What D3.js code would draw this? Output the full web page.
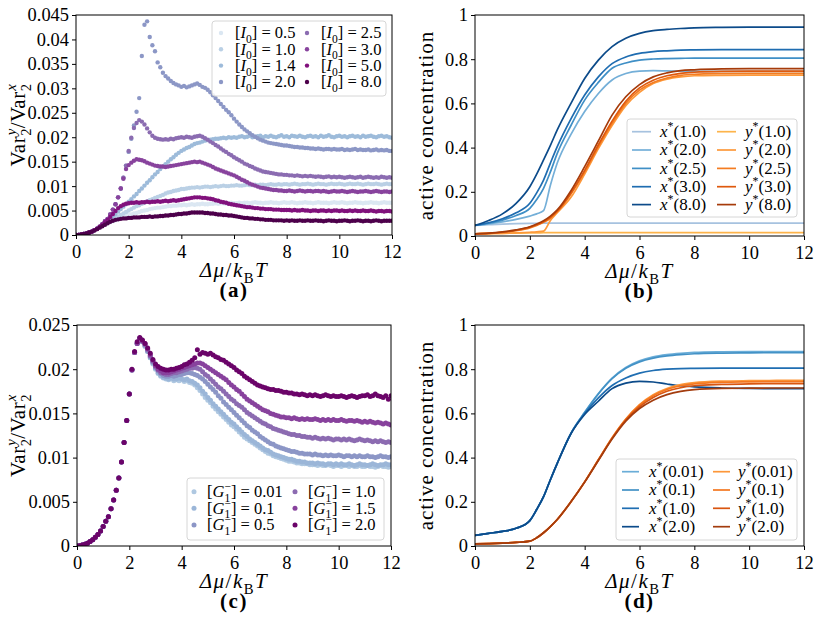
<!DOCTYPE html>
<html>
<head>
<meta charset="utf-8">
<script src="https://cdn.jsdelivr.net/npm/d3@7"></script>
<style>
  body { margin: 0; background: #fff; }
  svg text { font-family: "Liberation Serif", "Times New Roman", serif; fill: #000; }
</style>
</head>
<body>
<svg id="fig" width="823" height="625"></svg>
<script>
// ---------- data ----------
// chemical potential grid of the simulations (panels a, c)
var muGrid = [
  0, 0.1, 0.2, 0.3, 0.4, 0.5, 0.6, 0.7, 0.8, 0.9,
  1, 1.1, 1.2, 1.3, 1.4, 1.5, 1.6, 1.7, 1.8, 1.9,
  2, 2.1, 2.2, 2.3, 2.4, 2.5, 2.6, 2.7, 2.8, 2.9,
  3, 3.1, 3.2, 3.3, 3.4, 3.5, 3.6, 3.7, 3.8, 3.9,
  4, 4.1, 4.2, 4.3, 4.4, 4.5, 4.6, 4.7, 4.8, 4.9,
  5, 5.1, 5.2, 5.3, 5.4, 5.5, 5.6, 5.7, 5.8, 5.9,
  6, 6.1, 6.2, 6.3, 6.4, 6.5, 6.6, 6.7, 6.8, 6.9,
  7, 7.1, 7.2, 7.3, 7.4, 7.5, 7.6, 7.7, 7.8, 7.9,
  8, 8.1, 8.2, 8.3, 8.4, 8.5, 8.6, 8.7, 8.8, 8.9,
  9, 9.1, 9.2, 9.3, 9.4, 9.5, 9.6, 9.7, 9.8, 9.9,
  10, 10.1, 10.2, 10.3, 10.4, 10.5, 10.6, 10.7, 10.8, 10.9,
  11, 11.1, 11.2, 11.3, 11.4, 11.5, 11.6, 11.7, 11.8, 11.9,
  12
];

// panel (a): Var2^y / Var2^x for different [I0]
var i0Labels = ["0.5", "1.0", "1.4", "2.0", "2.5", "3.0", "5.0", "8.0"];
var ratioI05 = [
  0, 0.00003, 0.0001, 0.0002, 0.0003, 0.0005, 0.0007, 0.001, 0.0013, 0.0016,
  0.0019, 0.0021, 0.0024, 0.0026, 0.0028, 0.003, 0.0032, 0.0035, 0.0037, 0.0039,
  0.0041, 0.0042, 0.0044, 0.0045, 0.0047, 0.0049, 0.005, 0.0051, 0.0053, 0.0054,
  0.0055, 0.0056, 0.0056, 0.0057, 0.0058, 0.0059, 0.0059, 0.006, 0.006, 0.0061,
  0.0061, 0.0062, 0.0061, 0.0062, 0.0063, 0.0062, 0.0063, 0.0063, 0.0064, 0.0063,
  0.0063, 0.0064, 0.0064, 0.0065, 0.0064, 0.0065, 0.0065, 0.0064, 0.0065, 0.0066,
  0.0065, 0.0065, 0.0066, 0.0065, 0.0066, 0.0066, 0.0065, 0.0066, 0.0067, 0.0066,
  0.0066, 0.0065, 0.0066, 0.0066, 0.0067, 0.0066, 0.0066, 0.0065, 0.0066, 0.0067,
  0.0066, 0.0066, 0.0067, 0.0066, 0.0065, 0.0066, 0.0066, 0.0067, 0.0066, 0.0066,
  0.0065, 0.0066, 0.0067, 0.0066, 0.0066, 0.0066, 0.0065, 0.0066, 0.0067, 0.0066,
  0.0066, 0.0067, 0.0066, 0.0065, 0.0066, 0.0066, 0.0067, 0.0066, 0.0066, 0.0065,
  0.0066, 0.0066, 0.0067, 0.0066, 0.0066, 0.0065, 0.0066, 0.0067, 0.0066, 0.0066,
  0.0066
];
var ratioI10 = [
  0, 0.00003, 0.0001, 0.0002, 0.0003, 0.0005, 0.0007, 0.001, 0.0013, 0.0016,
  0.002, 0.0023, 0.0026, 0.0029, 0.0032, 0.0035, 0.0038, 0.0041, 0.0044, 0.0047,
  0.005, 0.0053, 0.0056, 0.0059, 0.0061, 0.0064, 0.0066, 0.0069, 0.0071, 0.0073,
  0.0076, 0.0078, 0.008, 0.0082, 0.0085, 0.0087, 0.0088, 0.009, 0.0091, 0.0092,
  0.0094, 0.0094, 0.0095, 0.0096, 0.0097, 0.0097, 0.0098, 0.0097, 0.0098, 0.0099,
  0.0099, 0.0098, 0.0099, 0.01, 0.0099, 0.01, 0.0101, 0.01, 0.01, 0.0101,
  0.0101, 0.0102, 0.0101, 0.0101, 0.0102, 0.0103, 0.0102, 0.0102, 0.0103, 0.0102,
  0.0103, 0.0103, 0.0102, 0.0103, 0.0104, 0.0103, 0.0103, 0.0104, 0.0103, 0.0104,
  0.0104, 0.0103, 0.0104, 0.0105, 0.0104, 0.0103, 0.0104, 0.0104, 0.0105, 0.0104,
  0.0103, 0.0104, 0.0105, 0.0104, 0.0104, 0.0103, 0.0104, 0.0105, 0.0104, 0.0104,
  0.0105, 0.0104, 0.0103, 0.0104, 0.0105, 0.0104, 0.0104, 0.0105, 0.0104, 0.0103,
  0.0104, 0.0105, 0.0104, 0.0104, 0.0105, 0.0104, 0.0103, 0.0104, 0.0105, 0.0104,
  0.0104
];
var ratioI14 = [
  0, 0.00003, 0.0001, 0.0002, 0.0003, 0.0005, 0.0007, 0.001, 0.0013, 0.0017,
  0.0021, 0.0025, 0.003, 0.0034, 0.0038, 0.0043, 0.0048, 0.0053, 0.0058, 0.0063,
  0.0068, 0.0073, 0.0079, 0.0084, 0.009, 0.0095, 0.0101, 0.0107, 0.0112, 0.0118,
  0.0124, 0.0129, 0.0135, 0.014, 0.0145, 0.015, 0.0155, 0.0159, 0.0164, 0.0168,
  0.0172, 0.0175, 0.0178, 0.018, 0.0183, 0.0186, 0.0188, 0.0189, 0.0191, 0.0193,
  0.0194, 0.0195, 0.0196, 0.0197, 0.0197, 0.0198, 0.0199, 0.0198, 0.02, 0.0199,
  0.02, 0.0199, 0.0201, 0.0202, 0.02, 0.0201, 0.0203, 0.02, 0.0201, 0.0202,
  0.0203, 0.02, 0.0202, 0.0201, 0.0203, 0.0201, 0.02, 0.0202, 0.0204, 0.0201,
  0.0202, 0.02, 0.0203, 0.0202, 0.0201, 0.0203, 0.0201, 0.02, 0.0202, 0.0203,
  0.0201, 0.0202, 0.02, 0.0203, 0.0201, 0.0202, 0.0204, 0.0201, 0.02, 0.0202,
  0.0203, 0.0201, 0.0202, 0.02, 0.0202, 0.0203, 0.0201, 0.0202, 0.02, 0.0203,
  0.0201, 0.0202, 0.0203, 0.0201, 0.02, 0.0202, 0.0203, 0.0201, 0.0202, 0.02,
  0.0199
];
var ratioI20 = [
  0, 0.00003, 0.0001, 0.0002, 0.0003, 0.0005, 0.0007, 0.001, 0.0013, 0.0017,
  0.0022, 0.0028, 0.0033, 0.0042, 0.0052, 0.0063, 0.0077, 0.0095, 0.0117, 0.0142,
  0.017, 0.0197, 0.0224, 0.0252, 0.028, 0.0366, 0.043, 0.0437, 0.0405, 0.0388,
  0.0376, 0.0353, 0.0343, 0.0332, 0.0325, 0.032, 0.0315, 0.0311, 0.0308, 0.0306,
  0.0303, 0.0305, 0.0302, 0.0304, 0.0306, 0.0308, 0.031, 0.0307, 0.0303, 0.0301,
  0.0297, 0.0292, 0.0286, 0.028, 0.0274, 0.0268, 0.0262, 0.0256, 0.0251, 0.0245,
  0.0238, 0.0232, 0.0226, 0.0221, 0.0216, 0.0212, 0.0208, 0.0204, 0.0201, 0.0198,
  0.0195, 0.0193, 0.0191, 0.0189, 0.0188, 0.0187, 0.0186, 0.0185, 0.0184, 0.0183,
  0.0183, 0.0182, 0.0181, 0.018, 0.018, 0.0179, 0.0179, 0.0178, 0.0178, 0.0177,
  0.0177, 0.0176, 0.0177, 0.0176, 0.0175, 0.0176, 0.0176, 0.0175, 0.0176, 0.0175,
  0.0175, 0.0176, 0.0174, 0.0175, 0.0174, 0.0175, 0.0176, 0.0174, 0.0175, 0.0174,
  0.0174, 0.0175, 0.0173, 0.0174, 0.0175, 0.0173, 0.0174, 0.0173, 0.0174, 0.0172,
  0.0172
];
var ratioI25 = [
  0, 0.00003, 0.0001, 0.0002, 0.0003, 0.0005, 0.0007, 0.001, 0.0013, 0.0017,
  0.0022, 0.0028, 0.0033, 0.0042, 0.0052, 0.0063, 0.0077, 0.0095, 0.0117, 0.0142,
  0.0172, 0.0199, 0.0219, 0.0229, 0.0235, 0.0232, 0.0226, 0.0218, 0.021, 0.0203,
  0.0199, 0.0197, 0.0196, 0.0195, 0.0196, 0.0195, 0.0197, 0.0196, 0.0198, 0.0199,
  0.02, 0.0199, 0.0201, 0.02, 0.0199, 0.0201, 0.0202, 0.0203, 0.0201, 0.0198,
  0.0195, 0.0191, 0.0188, 0.0184, 0.0181, 0.0177, 0.0173, 0.017, 0.0166, 0.0163,
  0.0159, 0.0156, 0.0153, 0.015, 0.0146, 0.0144, 0.0141, 0.0139, 0.0136, 0.0134,
  0.0132, 0.013, 0.0129, 0.0128, 0.0127, 0.0126, 0.0125, 0.0124, 0.0124, 0.0123,
  0.0123, 0.0122, 0.0122, 0.0121, 0.0122, 0.0121, 0.012, 0.0121, 0.012, 0.0121,
  0.012, 0.0119, 0.012, 0.0119, 0.0118, 0.0119, 0.012, 0.0118, 0.0119, 0.0118,
  0.0119, 0.0118, 0.0117, 0.0118, 0.0119, 0.0118, 0.0117, 0.0118, 0.0119, 0.0117,
  0.0118, 0.0119, 0.0118, 0.0117, 0.0118, 0.0117, 0.0119, 0.0118, 0.0117, 0.0118,
  0.0117
];
var ratioI30 = [
  0, 0.00003, 0.0001, 0.0002, 0.0003, 0.0005, 0.0007, 0.001, 0.0013, 0.0017,
  0.0022, 0.0028, 0.0033, 0.0042, 0.0052, 0.0063, 0.0077, 0.0095, 0.0115, 0.0135,
  0.0143, 0.0148, 0.0152, 0.0155, 0.0154, 0.0153, 0.0151, 0.0148, 0.0146, 0.0144,
  0.0142, 0.0141, 0.014, 0.014, 0.0139, 0.014, 0.0141, 0.0142, 0.0143, 0.0144,
  0.0145, 0.0146, 0.0147, 0.0148, 0.0149, 0.015, 0.0149, 0.015, 0.0148, 0.0146,
  0.0144, 0.0142, 0.0139, 0.0136, 0.0134, 0.0132, 0.013, 0.0128, 0.0126, 0.0124,
  0.0122, 0.0119, 0.0116, 0.0113, 0.0111, 0.0108, 0.0105, 0.0103, 0.0101, 0.0099,
  0.0097, 0.0096, 0.0095, 0.0094, 0.0093, 0.0092, 0.0092, 0.0091, 0.0091, 0.009,
  0.009, 0.0091, 0.009, 0.0089, 0.009, 0.0091, 0.009, 0.0089, 0.009, 0.009,
  0.0089, 0.009, 0.009, 0.0089, 0.009, 0.0089, 0.0088, 0.0089, 0.009, 0.0089,
  0.0089, 0.009, 0.0089, 0.0088, 0.0089, 0.009, 0.0089, 0.0088, 0.0089, 0.0089,
  0.009, 0.0089, 0.0088, 0.0089, 0.009, 0.0089, 0.0088, 0.0089, 0.0089, 0.0088,
  0.0089
];
var ratioI50 = [
  0, 0.00003, 0.0001, 0.0002, 0.0003, 0.0005, 0.0007, 0.001, 0.0013, 0.0017,
  0.0021, 0.0026, 0.0031, 0.0037, 0.0043, 0.0049, 0.0055, 0.0059, 0.0062, 0.0064,
  0.0065, 0.0066, 0.0066, 0.0067, 0.0066, 0.0067, 0.0067, 0.0068, 0.0067, 0.0068,
  0.0068, 0.0069, 0.0068, 0.0069, 0.007, 0.0069, 0.007, 0.0071, 0.007, 0.0071,
  0.0072, 0.0073, 0.0074, 0.0075, 0.0076, 0.0077, 0.0077, 0.0077, 0.0076, 0.0076,
  0.0075, 0.0074, 0.0073, 0.0071, 0.007, 0.0068, 0.0067, 0.0066, 0.0064, 0.0063,
  0.0062, 0.0061, 0.006, 0.0059, 0.0058, 0.0057, 0.0057, 0.0056, 0.0055, 0.0055,
  0.0054, 0.0054, 0.0053, 0.0053, 0.0053, 0.0052, 0.0052, 0.0052, 0.0051, 0.0051,
  0.0051, 0.0051, 0.005, 0.0051, 0.005, 0.005, 0.0051, 0.005, 0.005, 0.0049,
  0.005, 0.005, 0.0049, 0.005, 0.005, 0.0049, 0.005, 0.0049, 0.005, 0.005,
  0.0049, 0.005, 0.0049, 0.0049, 0.005, 0.0049, 0.005, 0.0049, 0.0049, 0.005,
  0.0049, 0.0049, 0.005, 0.0049, 0.0048, 0.0049, 0.0049, 0.0048, 0.0049, 0.0049,
  0.0048
];
var ratioI80 = [
  0, 0.00003, 0.0001, 0.0002, 0.0003, 0.0005, 0.0007, 0.0009, 0.0012, 0.0015,
  0.0018, 0.0021, 0.0024, 0.0027, 0.0029, 0.0031, 0.0032, 0.0033, 0.0034, 0.0034,
  0.0035, 0.0035, 0.0036, 0.0036, 0.0036, 0.0037, 0.0037, 0.0037, 0.0038, 0.0037,
  0.0038, 0.0038, 0.0039, 0.0039, 0.004, 0.004, 0.0041, 0.0041, 0.0042, 0.0043,
  0.0043, 0.0044, 0.0044, 0.0045, 0.0046, 0.0046, 0.0046, 0.0046, 0.0046, 0.0045,
  0.0045, 0.0044, 0.0044, 0.0043, 0.0042, 0.0042, 0.0041, 0.0041, 0.004, 0.004,
  0.0039, 0.0038, 0.0037, 0.0036, 0.0035, 0.0035, 0.0034, 0.0034, 0.0033, 0.0033,
  0.0032, 0.0032, 0.0031, 0.0031, 0.0031, 0.003, 0.003, 0.003, 0.003, 0.0029,
  0.003, 0.0029, 0.003, 0.0029, 0.0029, 0.003, 0.0029, 0.0029, 0.003, 0.0029,
  0.0029, 0.003, 0.0029, 0.0029, 0.0028, 0.0029, 0.003, 0.0029, 0.0029, 0.0028,
  0.0029, 0.0029, 0.003, 0.0029, 0.0028, 0.0029, 0.0029, 0.003, 0.0029, 0.0028,
  0.0029, 0.0029, 0.0028, 0.0029, 0.003, 0.0029, 0.0028, 0.0029, 0.0029, 0.0029,
  0.0029
];

// panel (c): Var2^y / Var2^x for different [G1-]
var gLabels = ["0.01", "0.1", "0.5", "1.0", "1.5", "2.0"];
var ratioG001 = [
  0, 0.00003, 0.0001, 0.0002, 0.0003, 0.0005, 0.0007, 0.001, 0.0013, 0.0017,
  0.0022, 0.0028, 0.0033, 0.0042, 0.0052, 0.0063, 0.0077, 0.0095, 0.0117, 0.0142,
  0.0172, 0.0199, 0.0219, 0.0229, 0.0235, 0.0231, 0.0226, 0.022, 0.0213, 0.0206,
  0.02, 0.0195, 0.0192, 0.019, 0.0189, 0.0188, 0.0189, 0.0187, 0.0188, 0.0187,
  0.0188, 0.0186, 0.0187, 0.0185, 0.0184, 0.0182, 0.0179, 0.0176, 0.0172, 0.0168,
  0.0165, 0.0162, 0.0158, 0.0155, 0.0152, 0.0149, 0.0146, 0.0143, 0.014, 0.0137,
  0.0135, 0.0132, 0.0129, 0.0126, 0.0123, 0.0121, 0.0119, 0.0117, 0.0115, 0.0113,
  0.0111, 0.0109, 0.0107, 0.0105, 0.0104, 0.0102, 0.0101, 0.01, 0.0099, 0.0098,
  0.0097, 0.0096, 0.0096, 0.0095, 0.0094, 0.0094, 0.0093, 0.0093, 0.0093, 0.0092,
  0.0092, 0.0092, 0.0091, 0.0092, 0.0091, 0.0091, 0.0092, 0.0091, 0.009, 0.0091,
  0.0091, 0.009, 0.0091, 0.0091, 0.009, 0.0091, 0.009, 0.009, 0.0091, 0.009,
  0.009, 0.0091, 0.009, 0.009, 0.0089, 0.009, 0.0091, 0.009, 0.009, 0.0089,
  0.009
];
var ratioG01 = [
  0, 0.00003, 0.0001, 0.0002, 0.0003, 0.0005, 0.0007, 0.001, 0.0013, 0.0017,
  0.0022, 0.0028, 0.0033, 0.0042, 0.0052, 0.0063, 0.0077, 0.0095, 0.0117, 0.0142,
  0.0172, 0.0199, 0.0219, 0.0229, 0.0235, 0.0231, 0.0226, 0.022, 0.0213, 0.0207,
  0.0201, 0.0196, 0.0193, 0.0191, 0.019, 0.0189, 0.019, 0.0189, 0.0189, 0.019,
  0.0189, 0.0188, 0.0189, 0.0187, 0.0186, 0.0184, 0.0182, 0.0179, 0.0175, 0.0172,
  0.0168, 0.0165, 0.0161, 0.0158, 0.0155, 0.0152, 0.0149, 0.0146, 0.0143, 0.014,
  0.0138, 0.0135, 0.0132, 0.0129, 0.0126, 0.0124, 0.0121, 0.0119, 0.0117, 0.0115,
  0.0113, 0.0111, 0.0109, 0.0108, 0.0106, 0.0104, 0.0103, 0.0102, 0.0101, 0.01,
  0.0099, 0.0098, 0.0098, 0.0097, 0.0096, 0.0096, 0.0095, 0.0095, 0.0094, 0.0094,
  0.0094, 0.0093, 0.0094, 0.0093, 0.0093, 0.0092, 0.0093, 0.0093, 0.0092, 0.0093,
  0.0092, 0.0093, 0.0092, 0.0092, 0.0093, 0.0092, 0.0091, 0.0092, 0.0093, 0.0092,
  0.0092, 0.0091, 0.0092, 0.0093, 0.0092, 0.0091, 0.0092, 0.0092, 0.0093, 0.0092,
  0.0092
];
var ratioG05 = [
  0, 0.00003, 0.0001, 0.0002, 0.0003, 0.0005, 0.0007, 0.001, 0.0013, 0.0017,
  0.0022, 0.0028, 0.0033, 0.0042, 0.0052, 0.0063, 0.0077, 0.0095, 0.0117, 0.0142,
  0.0172, 0.0199, 0.0219, 0.0229, 0.0235, 0.0231, 0.0227, 0.0221, 0.0214, 0.0208,
  0.0202, 0.0198, 0.0195, 0.0193, 0.0192, 0.0192, 0.0193, 0.0192, 0.0193, 0.0194,
  0.0194, 0.0195, 0.0196, 0.0196, 0.0195, 0.0194, 0.0193, 0.0191, 0.0189, 0.0186,
  0.0183, 0.018, 0.0177, 0.0174, 0.017, 0.0167, 0.0163, 0.016, 0.0157, 0.0154,
  0.0151, 0.0148, 0.0145, 0.0142, 0.0139, 0.0136, 0.0134, 0.0131, 0.0129, 0.0127,
  0.0124, 0.0122, 0.012, 0.0118, 0.0116, 0.0115, 0.0113, 0.0112, 0.0111, 0.011,
  0.0109, 0.0108, 0.0107, 0.0107, 0.0106, 0.0105, 0.0105, 0.0104, 0.0104, 0.0104,
  0.0103, 0.0104, 0.0103, 0.0103, 0.0102, 0.0103, 0.0102, 0.0103, 0.0102, 0.0102,
  0.0103, 0.0102, 0.0101, 0.0102, 0.0102, 0.0101, 0.0102, 0.0101, 0.0102, 0.0101,
  0.0101, 0.0102, 0.0101, 0.0101, 0.01, 0.0101, 0.0102, 0.0101, 0.0101, 0.01,
  0.0101
];
var ratioG10 = [
  0, 0.00003, 0.0001, 0.0002, 0.0003, 0.0005, 0.0007, 0.001, 0.0013, 0.0017,
  0.0022, 0.0028, 0.0033, 0.0042, 0.0052, 0.0063, 0.0077, 0.0095, 0.0117, 0.0142,
  0.0172, 0.0199, 0.0219, 0.0229, 0.0235, 0.0232, 0.0228, 0.0222, 0.0215, 0.0209,
  0.0203, 0.0199, 0.0196, 0.0195, 0.0194, 0.0194, 0.0195, 0.0196, 0.0196, 0.0197,
  0.0198, 0.0199, 0.02, 0.0201, 0.0201, 0.0202, 0.0201, 0.02, 0.0197, 0.0194,
  0.0192, 0.0189, 0.0186, 0.0183, 0.018, 0.0178, 0.0175, 0.0172, 0.0169, 0.0166,
  0.0164, 0.0161, 0.0159, 0.0157, 0.0154, 0.0151, 0.0149, 0.0147, 0.0145, 0.0143,
  0.0141, 0.0139, 0.0138, 0.0136, 0.0135, 0.0133, 0.0132, 0.0131, 0.013, 0.0129,
  0.0128, 0.0127, 0.0126, 0.0126, 0.0125, 0.0125, 0.0124, 0.0124, 0.0123, 0.0123,
  0.0122, 0.0123, 0.0122, 0.0121, 0.0122, 0.0121, 0.0122, 0.0121, 0.012, 0.0121,
  0.0121, 0.012, 0.0121, 0.012, 0.0121, 0.012, 0.0119, 0.012, 0.0121, 0.012,
  0.0119, 0.012, 0.0119, 0.0118, 0.0119, 0.0118, 0.0119, 0.0118, 0.0117, 0.0118,
  0.0117
];
var ratioG15 = [
  0, 0.00003, 0.0001, 0.0002, 0.0003, 0.0005, 0.0007, 0.001, 0.0013, 0.0017,
  0.0022, 0.0028, 0.0033, 0.0042, 0.0052, 0.0063, 0.0077, 0.0095, 0.0117, 0.0142,
  0.0172, 0.0199, 0.0219, 0.0229, 0.0235, 0.0232, 0.0229, 0.0223, 0.0216, 0.021,
  0.0204, 0.02, 0.0198, 0.0196, 0.0196, 0.0196, 0.0197, 0.0198, 0.0199, 0.02,
  0.0201, 0.0202, 0.0203, 0.0204, 0.0205, 0.0206, 0.0207, 0.0207, 0.0206, 0.0204,
  0.0202, 0.02, 0.0198, 0.0196, 0.0194, 0.0192, 0.019, 0.0188, 0.0185, 0.0182,
  0.018, 0.0177, 0.0175, 0.0172, 0.0169, 0.0166, 0.0164, 0.0162, 0.016, 0.0158,
  0.0156, 0.0154, 0.0153, 0.0152, 0.015, 0.0149, 0.0148, 0.0147, 0.0146, 0.0146,
  0.0145, 0.0145, 0.0144, 0.0145, 0.0144, 0.0143, 0.0144, 0.0143, 0.0144, 0.0143,
  0.0143, 0.0144, 0.0143, 0.0142, 0.0143, 0.0142, 0.0143, 0.0142, 0.0143, 0.0142,
  0.0142, 0.0143, 0.0142, 0.0141, 0.0142, 0.0142, 0.0141, 0.0142, 0.0141, 0.014,
  0.0141, 0.014, 0.0141, 0.014, 0.0139, 0.014, 0.0139, 0.0138, 0.0139, 0.0138,
  0.0137
];
var ratioG20 = [
  0, 0.00003, 0.0001, 0.0002, 0.0003, 0.0005, 0.0007, 0.001, 0.0013, 0.0017,
  0.0022, 0.0028, 0.0033, 0.0042, 0.0052, 0.0063, 0.0077, 0.0095, 0.0117, 0.0142,
  0.0172, 0.02, 0.022, 0.0231, 0.0236, 0.0233, 0.0229, 0.0224, 0.0218, 0.0211,
  0.0206, 0.0203, 0.0201, 0.02, 0.0199, 0.0199, 0.02, 0.02, 0.0201, 0.0202,
  0.0203, 0.0205, 0.0206, 0.0208, 0.021, 0.0213, 0.0222, 0.0217, 0.0219, 0.0218,
  0.0217, 0.0218, 0.0216, 0.0214, 0.0213, 0.0211, 0.021, 0.0208, 0.0206, 0.0204,
  0.0202, 0.0199, 0.0197, 0.0195, 0.0192, 0.019, 0.0188, 0.0186, 0.0184, 0.0182,
  0.0181, 0.018, 0.0179, 0.0178, 0.0177, 0.0177, 0.0176, 0.0176, 0.0175, 0.0174,
  0.0174, 0.0173, 0.0173, 0.0172, 0.0172, 0.0171, 0.0172, 0.0171, 0.017, 0.0171,
  0.017, 0.0171, 0.017, 0.0169, 0.017, 0.0171, 0.017, 0.0169, 0.017, 0.0169,
  0.0169, 0.017, 0.0169, 0.0168, 0.0169, 0.017, 0.0169, 0.0168, 0.0169, 0.017,
  0.017, 0.0171, 0.0169, 0.017, 0.0172, 0.017, 0.0169, 0.0168, 0.017, 0.0166,
  0.017
];

// panels (b), (d): steady state active concentrations
var muLine = [0, 0.5, 1, 1.5, 2, 2.25, 2.5, 2.75, 3, 3.5, 4, 4.5, 5, 5.5, 6, 6.5, 7, 7.5, 8, 9, 10, 11, 12];

var xStarI10 = [0.048, 0.051, 0.054, 0.056, 0.057, 0.057, 0.058, 0.058, 0.058, 0.058, 0.058, 0.058, 0.058, 0.058, 0.058, 0.058, 0.058, 0.058, 0.058, 0.058, 0.058, 0.058, 0.058];
var xStarI20 = [0.048, 0.055, 0.064, 0.075, 0.09, 0.1, 0.115, 0.23, 0.33, 0.46, 0.563, 0.645, 0.706, 0.735, 0.746, 0.748, 0.747, 0.746, 0.745, 0.745, 0.745, 0.745, 0.745];
var xStarI25 = [0.048, 0.058, 0.072, 0.093, 0.125, 0.165, 0.216, 0.29, 0.374, 0.5, 0.615, 0.695, 0.759, 0.783, 0.796, 0.801, 0.803, 0.804, 0.805, 0.805, 0.805, 0.805, 0.805];
var xStarI30 = [0.048, 0.06, 0.078, 0.105, 0.148, 0.195, 0.253, 0.33, 0.404, 0.53, 0.638, 0.72, 0.78, 0.81, 0.826, 0.834, 0.838, 0.841, 0.842, 0.843, 0.843, 0.843, 0.843];
var xStarI80 = [0.048, 0.07, 0.1, 0.148, 0.223, 0.28, 0.344, 0.41, 0.48, 0.6, 0.713, 0.796, 0.857, 0.895, 0.917, 0.929, 0.935, 0.939, 0.942, 0.944, 0.945, 0.945, 0.945];
var yStarI10 = [0.01, 0.011, 0.012, 0.013, 0.014, 0.014, 0.015, 0.015, 0.015, 0.015, 0.015, 0.015, 0.015, 0.015, 0.015, 0.015, 0.015, 0.015, 0.015, 0.015, 0.015, 0.015, 0.015];
var yStarI20 = [0.01, 0.011, 0.012, 0.014, 0.017, 0.019, 0.022, 0.07, 0.105, 0.175, 0.28, 0.395, 0.5, 0.59, 0.65, 0.69, 0.71, 0.72, 0.725, 0.727, 0.728, 0.728, 0.728];
var yStarI25 = [0.01, 0.012, 0.016, 0.024, 0.037, 0.048, 0.062, 0.08, 0.11, 0.19, 0.29, 0.405, 0.51, 0.6, 0.66, 0.695, 0.715, 0.727, 0.732, 0.735, 0.736, 0.736, 0.736];
var yStarI30 = [0.01, 0.012, 0.017, 0.026, 0.04, 0.051, 0.065, 0.085, 0.113, 0.195, 0.297, 0.413, 0.52, 0.61, 0.67, 0.705, 0.725, 0.736, 0.741, 0.745, 0.746, 0.746, 0.746];
var yStarI80 = [0.01, 0.013, 0.019, 0.028, 0.042, 0.054, 0.069, 0.09, 0.118, 0.205, 0.314, 0.43, 0.547, 0.63, 0.685, 0.72, 0.738, 0.748, 0.752, 0.756, 0.757, 0.757, 0.757];
var lineLabelsB = ["1.0", "2.0", "2.5", "3.0", "8.0"];

var xStarG001 = [0.048, 0.057, 0.066, 0.08, 0.115, 0.165, 0.223, 0.3, 0.374, 0.51, 0.605, 0.69, 0.76, 0.808, 0.838, 0.856, 0.866, 0.872, 0.876, 0.879, 0.88, 0.88, 0.88];
var xStarG01 = [0.048, 0.057, 0.066, 0.08, 0.115, 0.165, 0.223, 0.3, 0.374, 0.51, 0.604, 0.688, 0.757, 0.804, 0.833, 0.85, 0.86, 0.866, 0.87, 0.873, 0.874, 0.875, 0.875];
var xStarG10 = [0.048, 0.057, 0.066, 0.08, 0.115, 0.165, 0.223, 0.3, 0.374, 0.51, 0.6, 0.67, 0.726, 0.76, 0.782, 0.794, 0.8, 0.803, 0.804, 0.805, 0.805, 0.805, 0.805];
var xStarG20 = [0.048, 0.057, 0.066, 0.08, 0.115, 0.165, 0.223, 0.3, 0.374, 0.508, 0.595, 0.655, 0.712, 0.737, 0.745, 0.742, 0.733, 0.725, 0.72, 0.715, 0.713, 0.712, 0.712];
var yStarG001 = [0.01, 0.011, 0.013, 0.016, 0.022, 0.037, 0.06, 0.088, 0.12, 0.2, 0.29, 0.39, 0.49, 0.575, 0.64, 0.685, 0.713, 0.73, 0.739, 0.746, 0.748, 0.749, 0.749];
var yStarG01 = [0.01, 0.011, 0.013, 0.016, 0.022, 0.037, 0.06, 0.088, 0.12, 0.2, 0.29, 0.39, 0.489, 0.573, 0.637, 0.68, 0.708, 0.725, 0.734, 0.741, 0.743, 0.744, 0.744];
var yStarG10 = [0.01, 0.011, 0.013, 0.016, 0.022, 0.037, 0.06, 0.088, 0.12, 0.2, 0.29, 0.389, 0.487, 0.57, 0.63, 0.672, 0.7, 0.716, 0.725, 0.731, 0.734, 0.735, 0.735];
var yStarG20 = [0.01, 0.011, 0.013, 0.016, 0.022, 0.037, 0.06, 0.088, 0.12, 0.2, 0.289, 0.387, 0.484, 0.565, 0.622, 0.66, 0.685, 0.7, 0.708, 0.713, 0.714, 0.715, 0.715];
var lineLabelsD = ["0.01", "0.1", "1.0", "2.0"];

// axes ticks
var muTicks = [0, 2, 4, 6, 8, 10, 12];
var ticksA = [0, 0.005, 0.01, 0.015, 0.02, 0.025, 0.03, 0.035, 0.04, 0.045];
var ticksC = [0, 0.005, 0.01, 0.015, 0.02, 0.025];
var ticksConc = [0, 0.2, 0.4, 0.6, 0.8, 1];

// ---------- styles ----------
var colorsA = ["#dbe7f2", "#bad0e5", "#9dbbda", "#8c97c6", "#8b6cb1", "#88439d", "#81117c", "#4d004b"];
var colorsC = ["#afc8e1", "#9bb6d8", "#8c96c6", "#8c6bb1", "#88429d", "#6b0469"];
var blueB = ["#a6c2df", "#74afd8", "#3f8fc6", "#1f6db1", "#0c4b8a"];
var orangeB = ["#fdb44b", "#fd993a", "#f47c21", "#df590d", "#a63b0a"];
var blueD = ["#6aadd8", "#4392c6", "#1f6eb2", "#0c4b8a"];
var orangeD = ["#fd973a", "#f4771f", "#d9550f", "#a33c0e"];

var tickFont = 18.4;
var labelFont = 21;

var svg = d3.select("#fig");

// text with italic parts, subscripts and superscripts
function richText(sel, parts, size) {
  var shift = 0;
  parts.forEach(function (p) {
    var target = p.sub ? 0.28 * size : p.sup ? -0.42 * size : 0;
    var ts = sel
      .append("tspan")
      .text(p.t)
      .attr("dy", target - shift)
      .style("font-size", (p.sub || p.sup ? 0.7 * size : size) + "px");
    if (p.it) ts.style("font-style", "italic");
    if (p.dx) ts.attr("dx", p.dx);
    shift = target;
  });
}

function tickFormat(d) {
  return d === 0 ? "0" : String(+d.toFixed(3));
}

function drawPanel(p) {
  var g = svg
    .append("g")
    .attr("transform", "translate(" + p.left + "," + p.top + ")");
  var x = d3.scaleLinear().domain([0, 12]).range([0, p.width]);
  var y = d3.scaleLinear().domain([0, p.yMax]).range([p.height, 0]);

  svg
    .append("clipPath")
    .attr("id", "clip" + p.name)
    .append("rect")
    .attr("width", p.width)
    .attr("height", p.height);

  var xAxis = g
    .append("g")
    .attr("transform", "translate(0," + p.height + ")")
    .call(d3.axisBottom(x).tickValues(muTicks).tickSize(4).tickPadding(6).tickFormat(tickFormat));
  var yAxis = g
    .append("g")
    .call(d3.axisLeft(y).tickValues(p.yTicks).tickSize(4).tickPadding(3).tickFormat(tickFormat));
  [xAxis, yAxis].forEach(function (a) {
    a.select(".domain").remove();
    a.attr("font-family", null).attr("font-size", null);
    a.selectAll("text").style("font-size", tickFont + "px").attr("fill", "#000");
    a.selectAll("line").attr("stroke", "#000");
  });

  var xl = g
    .append("text")
    .attr("x", p.width / 2)
    .attr("y", p.height + 42)
    .attr("text-anchor", "middle")
    .style("letter-spacing", "1.5px");
  richText(
    xl,
    [
      { t: "Δμ", it: 1 },
      { t: "/" },
      { t: "k", it: 1 },
      { t: "B", sub: 1 },
      { t: "T", it: 1 },
    ],
    labelFont
  );

  g.append("text")
    .attr("x", p.width / 2)
    .attr("y", p.height + 62)
    .attr("text-anchor", "middle")
    .style("font-size", "21px")
    .style("font-weight", "bold")
    .style("letter-spacing", "1.5px")
    .text("(" + p.name + ")");

  var yl = g
    .append("text")
    .attr("transform", "translate(" + p.yLabelX + "," + p.height / 2 + ") rotate(-90)")
    .attr("text-anchor", "middle");
  if (p.yLabel === "ratio") {
    yl.style("letter-spacing", "0.5px");
    richText(
      yl,
      [
        { t: "Var" },
        { t: "2", sub: 1 },
        { t: "y", sup: 1, it: 1, dx: -0.35 * labelFont },
        { t: "/Var" },
        { t: "2", sub: 1 },
        { t: "x", sup: 1, it: 1, dx: -0.35 * labelFont },
      ],
      labelFont
    );
  } else {
    yl.style("font-size", labelFont + "px").style("letter-spacing", "1px").text("active concentration");
  }

  var plot = g.append("g").attr("clip-path", "url(#clip" + p.name + ")");
  return { g: g, plot: plot, x: x, y: y };
}

function drawFrame(ax, p) {
  ax.g
    .append("rect")
    .attr("width", p.width)
    .attr("height", p.height)
    .attr("fill", "none")
    .attr("stroke", "#000")
    .attr("stroke-width", 1);
}

function drawScatter(ax, series, colors, r) {
  series.forEach(function (vals, i) {
    ax.plot
      .append("g")
      .selectAll("circle")
      .data(vals)
      .enter()
      .append("circle")
      .attr("cx", function (d, j) {
        return ax.x(muGrid[j]);
      })
      .attr("cy", function (d) {
        return ax.y(d);
      })
      .attr("r", r)
      .attr("fill", colors[i]);
  });
}

function drawLines(ax, series, colors) {
  var line = d3
    .line()
    .x(function (d, j) {
      return ax.x(muLine[j]);
    })
    .y(function (d) {
      return ax.y(d);
    })
    .curve(d3.curveMonotoneX);
  series.forEach(function (vals, i) {
    ax.plot
      .append("path")
      .datum(vals)
      .attr("d", line)
      .attr("fill", "none")
      .attr("stroke", colors[i])
      .attr("stroke-width", 1.7);
  });
}

// legend: absolute positions
function drawLegend(box, rows, cols, items, kind, fontSize) {
  var lg = svg.append("g");
  lg.append("rect")
    .attr("x", box[0])
    .attr("y", box[1])
    .attr("width", box[2])
    .attr("height", box[3])
    .attr("rx", 3)
    .attr("fill", "#fff")
    .attr("fill-opacity", 0.85)
    .attr("stroke", "#d6d6d6")
    .attr("stroke-width", 1);
  items.forEach(function (it, k) {
    var c = Math.floor(k / rows.length);
    var ry = rows[k % rows.length];
    var col = cols[c];
    if (kind === "dot") {
      lg.append("circle").attr("cx", col.mark).attr("cy", ry).attr("r", col.r).attr("fill", it.color);
    } else {
      lg.append("line")
        .attr("x1", col.mark[0])
        .attr("x2", col.mark[1])
        .attr("y1", ry)
        .attr("y2", ry)
        .attr("stroke", it.color)
        .attr("stroke-width", 1.7);
    }
    var t = lg.append("text").attr("x", col.text).attr("y", ry + 0.32 * fontSize);
    richText(t, it.parts, fontSize);
  });
}

// ---------- panel (a) ----------
var pA = { name: "a", left: 76, top: 15, width: 316, height: 220, yMax: 0.045, yTicks: ticksA, yLabel: "ratio", yLabelX: -51 };
var axA = drawPanel(pA);
drawScatter(axA, [ratioI05, ratioI10, ratioI14, ratioI20, ratioI25, ratioI30, ratioI50, ratioI80], colorsA, 2.2);
drawFrame(axA, pA);
drawLegend(
  [212, 21, 174, 75],
  [33, 49.3, 65.6, 82],
  [{ mark: 221, text: 235, r: 2.2 }, { mark: 307, text: 321, r: 2.2 }],
  i0Labels.map(function (l, i) {
    return {
      color: colorsA[i],
      parts: [{ t: "[" }, { t: "I", it: 1 }, { t: "0", sub: 1 }, { t: "] = " + l }],
    };
  }),
  "dot",
  16.5
);

// ---------- panel (b) ----------
var pB = { name: "b", left: 475, top: 15, width: 329, height: 221, yMax: 1, yTicks: ticksConc, yLabel: "conc", yLabelX: -42 };
var axB = drawPanel(pB);
drawLines(axB, [xStarI10, xStarI20, xStarI25, xStarI30, xStarI80], blueB);
drawLines(axB, [yStarI10, yStarI20, yStarI25, yStarI30, yStarI80], orangeB);
drawFrame(axB, pB);
var itemsB = lineLabelsB
  .map(function (l, i) {
    return { color: blueB[i], parts: [{ t: "x", it: 1 }, { t: "*", sup: 1 }, { t: "(" + l + ")" }] };
  })
  .concat(
    lineLabelsB.map(function (l, i) {
      return { color: orangeB[i], parts: [{ t: "y", it: 1 }, { t: "*", sup: 1 }, { t: "(" + l + ")" }] };
    })
  );
drawLegend(
  [627, 119, 170, 98],
  [131.7, 150, 168.4, 186.7, 204.6],
  [{ mark: [632, 651], text: 660 }, { mark: [717, 736], text: 745 }],
  itemsB,
  "line",
  17
);

// ---------- panel (c) ----------
var pC = { name: "c", left: 77, top: 325, width: 314, height: 221, yMax: 0.025, yTicks: ticksC, yLabel: "ratio", yLabelX: -52 };
var axC = drawPanel(pC);
drawScatter(axC, [ratioG001, ratioG01, ratioG05, ratioG10, ratioG15, ratioG20], colorsC, 2.5);
drawFrame(axC, pC);
drawLegend(
  [187, 478, 197, 62],
  [491.7, 508.3, 525],
  [{ mark: 194, text: 207, r: 2.5 }, { mark: 295, text: 308, r: 2.5 }],
  gLabels.map(function (l, i) {
    return {
      color: colorsC[i],
      parts: [
        { t: "[" },
        { t: "G", it: 1 },
        { t: "1", sub: 1 },
        { t: "−", sup: 1, dx: -0.35 * 16.5 },
        { t: "] = " + l },
      ],
    };
  }),
  "dot",
  16.5
);

// ---------- panel (d) ----------
var pD = { name: "d", left: 475, top: 325, width: 329, height: 221, yMax: 1, yTicks: ticksConc, yLabel: "conc", yLabelX: -42 };
var axD = drawPanel(pD);
drawLines(axD, [xStarG001, xStarG01, xStarG10, xStarG20], blueD);
drawLines(axD, [yStarG001, yStarG01, yStarG10, yStarG20], orangeD);
drawFrame(axD, pD);
var itemsD = lineLabelsD
  .map(function (l, i) {
    return { color: blueD[i], parts: [{ t: "x", it: 1 }, { t: "*", sup: 1 }, { t: "(" + l + ")" }] };
  })
  .concat(
    lineLabelsD.map(function (l, i) {
      return { color: orangeD[i], parts: [{ t: "y", it: 1 }, { t: "*", sup: 1 }, { t: "(" + l + ")" }] };
    })
  );
drawLegend(
  [616, 459, 181, 81],
  [471.7, 490, 508.3, 526.7],
  [{ mark: [622, 639], text: 649 }, { mark: [713, 730], text: 738 }],
  itemsD,
  "line",
  17
);
</script>
</body>
</html>
